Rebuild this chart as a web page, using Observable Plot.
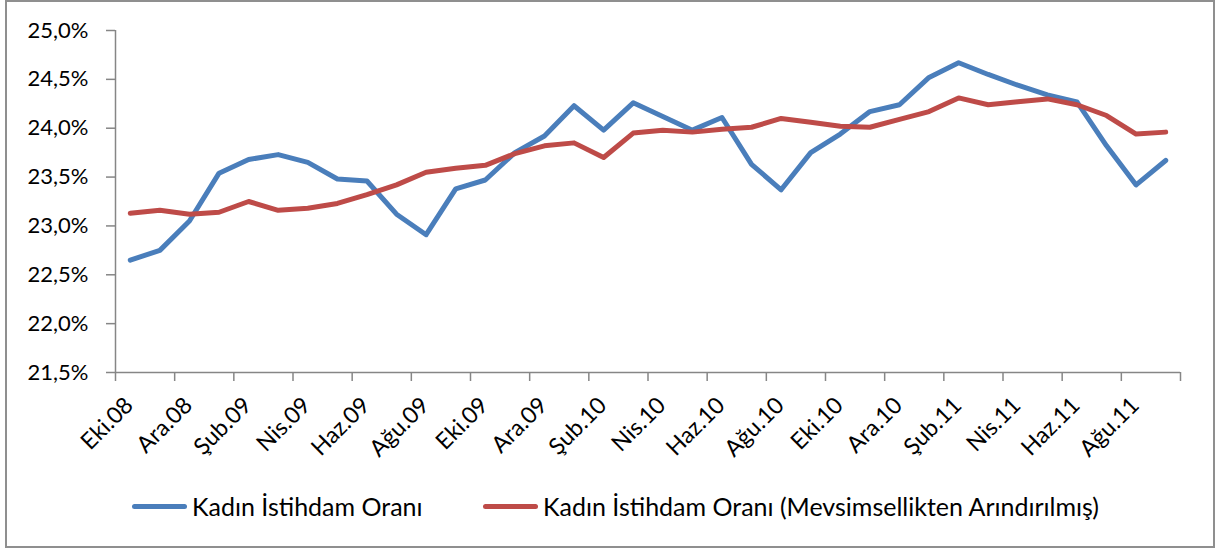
<!DOCTYPE html>
<html><head><meta charset="utf-8">
<script src="https://cdn.jsdelivr.net/npm/d3@7"></script>
<script src="https://cdn.jsdelivr.net/npm/@observablehq/plot@0.6"></script>
<style>
body{margin:0;background:#fff;font-family:Lato,sans-serif;}
#wrap{position:relative;width:1216px;height:549px;overflow:hidden;}
#chart svg{display:block;}
#frame{position:absolute;left:5px;top:0;width:1210px;height:548px;border:2px solid #8f8f8f;box-sizing:border-box;pointer-events:none;}
#legend{position:absolute;left:0;top:470px;width:1216px;height:79px;}
.item{position:absolute;top:21px;display:flex;align-items:center;font-size:25px;color:#000;white-space:nowrap;}
.sw{width:55px;height:5px;border-radius:3px;margin-right:5px;}
</style></head>
<body><div id="wrap"><div id="chart"></div><div id="legend"></div><div id="frame"></div></div>
<script>
const months = ["Eki.08","Kas.08","Ara.08","Oca.09","Şub.09","Mar.09","Nis.09","May.09","Haz.09","Tem.09","Ağu.09","Eyl.09",
  "Eki.09","Kas.09","Ara.09","Oca.10","Şub.10","Mar.10","Nis.10","May.10","Haz.10","Tem.10","Ağu.10","Eyl.10",
  "Eki.10","Kas.10","Ara.10","Oca.11","Şub.11","Mar.11","Nis.11","May.11","Haz.11","Tem.11","Ağu.11","Eyl.11"];
const kadin = [22.65,22.75,23.05,23.54,23.68,23.73,23.65,23.48,23.46,23.12,22.91,23.38,
  23.47,23.75,23.92,24.23,23.98,24.26,24.12,23.98,24.11,23.63,23.37,23.75,
  23.94,24.17,24.24,24.52,24.67,24.55,24.44,24.34,24.27,23.82,23.42,23.67];
const kadinSA = [23.13,23.16,23.12,23.14,23.25,23.16,23.18,23.23,23.32,23.42,23.55,23.59,
  23.62,23.74,23.82,23.85,23.70,23.95,23.98,23.96,23.99,24.01,24.10,24.06,
  24.02,24.01,24.09,24.17,24.31,24.24,24.27,24.30,24.24,24.13,23.94,23.96];
const yTicks = [21.5,22.0,22.5,23.0,23.5,24.0,24.5,25.0];
const tickLabels = months.filter((m,i)=>i%2===0);
const seriesNames = ["Kadın İstihdam Oranı","Kadın İstihdam Oranı (Mevsimsellikten Arındırılmış)"];
const colors = ["#4A7EBB","#BE4B48"];

const data = months.flatMap((m,i)=>[
  {i, v:kadin[i], s:seriesNames[0]},
  {i, v:kadinSA[i], s:seriesNames[1]}
]);
const boundaries = d3.range(0, months.length+1, 2).map(k=>k-0.5);
const labelIdx = tickLabels.map(t=>months.indexOf(t));

const chart = Plot.plot({
  width:1216, height:470,
  marginLeft:115, marginRight:36, marginTop:30, marginBottom:98,
  style:{fontFamily:"Lato, sans-serif", fontSize:"22px", color:"#000", background:"white"},
  x:{type:"linear", domain:[-0.5, months.length-0.5], label:null},
  y:{domain:[21.5,25], label:null},
  color:{domain:seriesNames, range:colors},
  marks:[
    Plot.ruleY([21.5], {stroke:"#868686", strokeWidth:1.5}),
    Plot.ruleX([-0.5], {stroke:"#868686", strokeWidth:1.5}),
    Plot.axisY({ticks:yTicks, tickSize:9, tickPadding:18, stroke:"#868686", fill:"#000", strokeWidth:1.5,
      tickFormat:d=>d.toFixed(1).replace(".",",")+"%", label:null}),
    Plot.axisX({ticks:boundaries, tickSize:9, tickFormat:()=>"", stroke:"#868686", strokeWidth:1.5, label:null}),
    Plot.axisX({ticks:labelIdx, tickSize:0, tickPadding:8, tickRotate:-45, fill:"#000", fontSize:23, dy:21, dx:-1,
      tickFormat:i=>months[i], label:null}),
    Plot.line(data, {x:"i", y:"v", stroke:"s", z:"s", strokeWidth:5, strokeLinejoin:"round", strokeLinecap:"round"})
  ]
});
document.getElementById("chart").appendChild(chart);

const legend = document.getElementById("legend");
const lx = [132, 483];
seriesNames.forEach((n,k)=>{
  const it = document.createElement("div");
  it.className = "item";
  it.style.left = lx[k]+"px";
  const sw = document.createElement("div");
  sw.className = "sw"; sw.style.background = colors[k];
  const tx = document.createElement("span");
  tx.textContent = n;
  it.appendChild(sw); it.appendChild(tx);
  legend.appendChild(it);
});
</script>
</body></html>
